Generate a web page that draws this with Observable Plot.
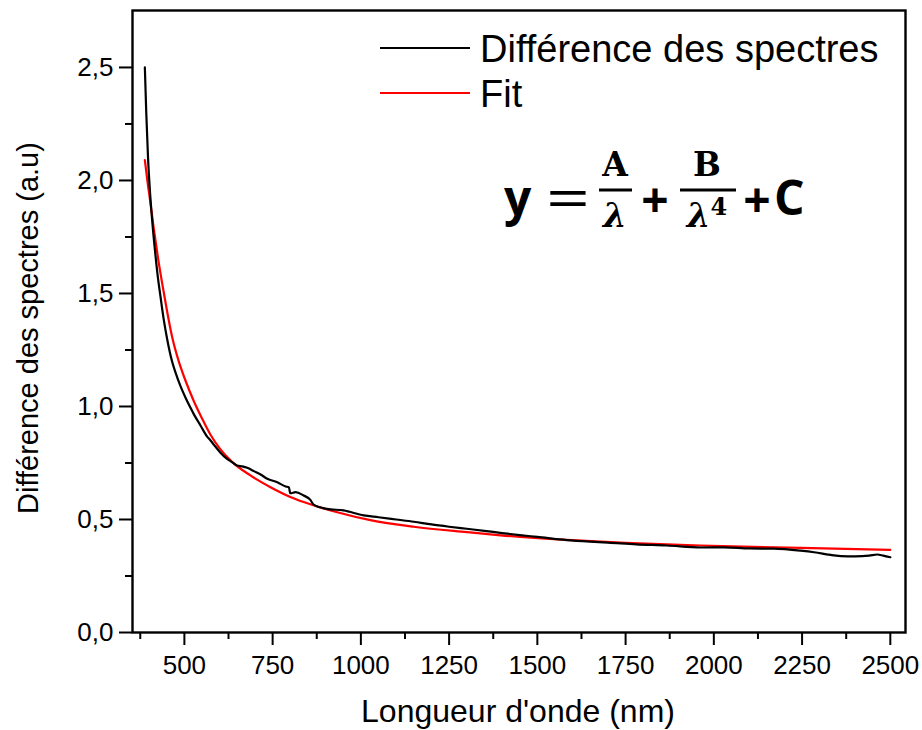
<!DOCTYPE html>
<html>
<head>
<meta charset="utf-8">
<script src="https://cdn.jsdelivr.net/npm/d3@7"></script>
<script src="https://cdn.jsdelivr.net/npm/@observablehq/plot@0.6"></script>
<style>
  html, body { margin: 0; padding: 0; background: #fff; }
  #chart { width: 922px; height: 730px; }
</style>
</head>
<body>
<div id="chart"></div>
<script>
// Wavelength (nm) and measured spectrum difference (black curve)
const diffLambda = [388, 392, 397, 403, 410, 418, 425, 432, 441, 451, 465, 475, 489, 503, 517, 527, 546, 564, 573, 585, 601, 620, 635, 649, 664, 678, 697, 716, 735, 763, 787, 796, 800, 815, 838, 857, 866, 904, 951, 1008, 1050, 1100, 1150, 1200, 1250, 1300, 1350, 1400, 1450, 1500, 1583, 1650, 1700, 1780, 1867, 1963, 2030, 2100, 2170, 2246, 2284, 2320, 2340, 2380, 2420, 2440, 2463, 2480, 2500];
const diffValue  = [2.50, 2.30, 2.10, 1.94, 1.80, 1.67, 1.57, 1.49, 1.39, 1.30, 1.20, 1.15, 1.09, 1.04, 0.995, 0.965, 0.915, 0.868, 0.852, 0.828, 0.798, 0.769, 0.754, 0.739, 0.735, 0.729, 0.714, 0.699, 0.680, 0.665, 0.646, 0.643, 0.616, 0.621, 0.606, 0.587, 0.566, 0.547, 0.540, 0.518, 0.510, 0.500, 0.490, 0.478, 0.468, 0.459, 0.450, 0.440, 0.431, 0.423, 0.409, 0.402, 0.398, 0.390, 0.385, 0.376, 0.377, 0.372, 0.371, 0.362, 0.355, 0.346, 0.341, 0.337, 0.338, 0.340, 0.345, 0.340, 0.333];

// Fit curve (red)
const fitLambda = [388, 395, 403, 413, 425, 441, 465, 485, 503, 525, 550, 574, 600, 635, 687, 744, 800, 838, 933, 1027, 1150, 1300, 1396, 1583, 1750, 1963, 2246, 2500];
const fitValue  = [2.09, 2.00, 1.91, 1.79, 1.66, 1.51, 1.31, 1.195, 1.115, 1.03, 0.947, 0.875, 0.815, 0.755, 0.695, 0.643, 0.600, 0.577, 0.532, 0.497, 0.468, 0.444, 0.430, 0.410, 0.397, 0.385, 0.374, 0.366];

// Axis ticks
const xTicks = [500, 750, 1000, 1250, 1500, 1750, 2000, 2250, 2500];
const xMinorTicks = [375, 625, 875, 1125, 1375, 1625, 1875, 2125, 2375];
const yTicks = [0, 0.5, 1.0, 1.5, 2.0, 2.5];
const yMinorTicks = [0.25, 0.75, 1.25, 1.75, 2.25];

// Texts
const xTitle = "Longueur d'onde (nm)";
const yTitle = "Différence des spectres (a.u)";
const seriesNames = ["Différence des spectres", "Fit"];
const seriesColors = ["#000000", "#ff0000"];

const diffData = diffLambda.map((x, i) => ({x, y: diffValue[i]}));
const fitData = fitLambda.map((x, i) => ({x, y: fitValue[i]}));

const font = "'Liberation Sans', Arial, sans-serif";
const fmtY = d => d.toFixed(1).replace(".", ",");

const plot = Plot.plot({
  width: 922,
  height: 730,
  marginLeft: 132,
  marginRight: 17,
  marginTop: 10,
  marginBottom: 98,
  style: {fontFamily: font, background: "#fff", overflow: "visible"},
  x: {domain: [353, 2543]},
  y: {domain: [0, 2.752]},
  marks: [
    Plot.line(fitData, {x: "x", y: "y", stroke: seriesColors[1], strokeWidth: 2.2, curve: "monotone-x"}),
    Plot.line(diffData, {x: "x", y: "y", stroke: seriesColors[0], strokeWidth: 2.2, curve: "monotone-x"}),
    Plot.axisX(xTicks, {tickSize: 13, tickPadding: 10, fontSize: 26, fill: "#000", strokeWidth: 2, tickFormat: d => String(d), label: null}),
    Plot.axisX(xMinorTicks, {tickSize: 7, strokeWidth: 2, text: null, label: null}),
    Plot.axisY(yTicks, {tickSize: 13, tickPadding: 6, fontSize: 26, fill: "#000", strokeWidth: 2, tickFormat: fmtY, label: null}),
    Plot.axisY(yMinorTicks, {tickSize: 7, strokeWidth: 2, text: null, label: null}),
    Plot.frame({stroke: "#000", strokeWidth: 2.4})
  ]
});

document.getElementById("chart").appendChild(plot);

// Titles, legend and equation added as SVG text
const svg = d3.select(plot);
const g = svg.append("g").attr("font-family", font).attr("fill", "#000").attr("text-anchor", "start");

g.append("text").attr("x", 518).attr("y", 722).attr("text-anchor", "middle")
  .attr("font-size", 32).text(xTitle);
g.append("text").attr("transform", "translate(38,328) rotate(-90)").attr("text-anchor", "middle")
  .attr("font-size", 29).text(yTitle);

const legY = [48, 93];
seriesNames.forEach((name, i) => {
  g.append("line").attr("x1", 380).attr("x2", 470).attr("y1", legY[i]).attr("y2", legY[i])
    .attr("stroke", seriesColors[i]).attr("stroke-width", 2.2);
  g.append("text").attr("x", 480).attr("y", legY[i] + 14).attr("text-anchor", "start").attr("font-size", 38).text(name);
});

// Equation y = A/λ + B/λ⁴ + C
const eq = svg.append("g").attr("fill", "#000").attr("text-anchor", "start");
const sans = "'Open Sans', Lato, sans-serif";
const serif = "'DejaVu Serif', serif";
const base = 215;
eq.append("text").attr("x", 504).attr("y", base).attr("font-family", sans).attr("font-weight", 700).attr("font-size", 48).text("y");
eq.append("text").attr("x", 546).attr("y", 218).attr("font-family", sans).attr("font-weight", 400).attr("font-size", 56)
  .attr("textLength", 44).attr("lengthAdjust", "spacingAndGlyphs").text("=");
eq.append("text").attr("x", 615).attr("y", 176).attr("text-anchor", "middle").attr("font-family", serif).attr("font-weight", 700).attr("font-size", 33).text("A");
eq.append("line").attr("x1", 599).attr("x2", 632).attr("y1", 190).attr("y2", 190).attr("stroke", "#000").attr("stroke-width", 3);
eq.append("text").attr("x", 615).attr("y", 227).attr("text-anchor", "middle").attr("font-family", serif).attr("font-weight", 700).attr("font-style", "italic").attr("font-size", 34).text("λ");
eq.append("text").attr("x", 655).attr("y", 217).attr("text-anchor", "middle").attr("font-family", sans).attr("font-weight", 700).attr("font-size", 48).text("+");
eq.append("text").attr("x", 707).attr("y", 176).attr("text-anchor", "middle").attr("font-family", serif).attr("font-weight", 700).attr("font-size", 33).text("B");
eq.append("line").attr("x1", 680).attr("x2", 736).attr("y1", 190).attr("y2", 190).attr("stroke", "#000").attr("stroke-width", 3);
const lam4 = eq.append("text").attr("x", 707).attr("y", 227).attr("text-anchor", "middle").attr("font-family", serif).attr("font-weight", 700).attr("font-size", 34);
lam4.append("tspan").attr("font-style", "italic").text("λ");
lam4.append("tspan").attr("dy", -12).attr("font-size", 24).text("4");
eq.append("text").attr("x", 757).attr("y", 217).attr("text-anchor", "middle").attr("font-family", sans).attr("font-weight", 700).attr("font-size", 48).text("+");
eq.append("text").attr("x", 774).attr("y", base).attr("font-family", sans).attr("font-weight", 700).attr("font-size", 48).text("C");
</script>
</body>
</html>
